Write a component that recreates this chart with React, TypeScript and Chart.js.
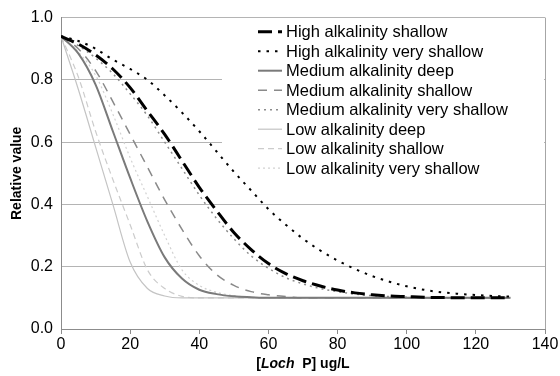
import React, { useEffect, useRef } from "react";
import { Chart, registerables } from "chart.js";

Chart.register(...registerables);

// x positions ([Loch P] ug/L) where values were read
const xValues = [0, 5, 10, 15, 20, 25, 30, 35, 40, 45, 50, 55, 60, 65, 70, 75, 80, 85, 90, 95, 100, 105, 110, 115, 120, 125, 130];

const highShallow = [0.94, 0.915, 0.88, 0.835, 0.775, 0.7, 0.625, 0.54, 0.455, 0.38, 0.31, 0.255, 0.21, 0.178, 0.155, 0.138, 0.125, 0.116, 0.11, 0.106, 0.104, 0.102, 0.101, 0.1, 0.1, 0.1, 0.1];
const highVeryShallow = [0.94, 0.925, 0.9, 0.865, 0.835, 0.8, 0.75, 0.695, 0.635, 0.57, 0.505, 0.445, 0.385, 0.335, 0.29, 0.252, 0.22, 0.193, 0.17, 0.152, 0.137, 0.126, 0.118, 0.113, 0.109, 0.106, 0.104];
const mediumDeep = [0.94, 0.885, 0.785, 0.635, 0.485, 0.345, 0.23, 0.162, 0.126, 0.112, 0.105, 0.102, 0.1, 0.1, 0.1, 0.1, 0.1, 0.1, 0.1, 0.1, 0.1, 0.1, 0.1, 0.1, 0.1, 0.1, 0.1];
const mediumShallow = [0.94, 0.9, 0.83, 0.73, 0.625, 0.52, 0.415, 0.32, 0.235, 0.175, 0.14, 0.12, 0.11, 0.104, 0.1, 0.1, 0.1, 0.1, 0.1, 0.1, 0.1, 0.1, 0.1, 0.1, 0.1, 0.1, 0.1];
const mediumVeryShallow = [0.94, 0.91, 0.87, 0.82, 0.755, 0.685, 0.6, 0.515, 0.43, 0.355, 0.29, 0.235, 0.195, 0.165, 0.145, 0.13, 0.12, 0.112, 0.107, 0.104, 0.102, 0.101, 0.1, 0.1, 0.1, 0.1, 0.1];
const lowDeep = [0.94, 0.77, 0.585, 0.4, 0.215, 0.13, 0.106, 0.1, 0.1, 0.1, 0.1, 0.1, 0.1, 0.1, 0.1, 0.1, 0.1, 0.1, 0.1, 0.1, 0.1, 0.1, 0.1, 0.1, 0.1, 0.1, 0.1];
const lowShallow = [0.94, 0.81, 0.635, 0.48, 0.335, 0.19, 0.13, 0.105, 0.1, 0.1, 0.1, 0.1, 0.1, 0.1, 0.1, 0.1, 0.1, 0.1, 0.1, 0.1, 0.1, 0.1, 0.1, 0.1, 0.1, 0.1, 0.1];
const lowVeryShallow = [0.94, 0.89, 0.815, 0.69, 0.55, 0.425, 0.3, 0.19, 0.14, 0.118, 0.107, 0.102, 0.1, 0.1, 0.1, 0.1, 0.1, 0.1, 0.1, 0.1, 0.1, 0.1, 0.1, 0.1, 0.1, 0.1, 0.1];

const seriesNames = [
  "High alkalinity shallow",
  "High alkalinity very shallow",
  "Medium alkalinity deep",
  "Medium alkalinity shallow",
  "Medium alkalinity very shallow",
  "Low alkalinity deep",
  "Low alkalinity shallow",
  "Low alkalinity very shallow",
];
const seriesValues = [highShallow, highVeryShallow, mediumDeep, mediumShallow, mediumVeryShallow, lowDeep, lowShallow, lowVeryShallow];

const yAxisTitle = "Relative value";
const xAxisTitleParts = ["[", "Loch", "  P] ug/L"];

const styles = [
  { color: "#000000", width: 3, dash: [14, 6] },
  { color: "#000000", width: 2, dash: [2.5, 6] },
  { color: "#7a7a7a", width: 2, dash: [] },
  { color: "#8a8a8a", width: 1.5, dash: [9, 7] },
  { color: "#8c8c8c", width: 1.5, dash: [2, 4] },
  { color: "#c4c4c4", width: 1.2, dash: [] },
  { color: "#cccccc", width: 1.2, dash: [6, 4] },
  { color: "#d2d2d2", width: 1.2, dash: [2, 3] },
];

const FONT = "'Liberation Sans', Arial, sans-serif";

const overlayPlugin = {
  id: "overlay",
  beforeDatasetsDraw(chart: any) {
    const { ctx, chartArea } = chart;
    ctx.save();
    ctx.fillStyle = "#ffffff";
    ctx.fillRect(222, chartArea.top + 1, chartArea.right - 222 - 1, 185 - chartArea.top);
    ctx.restore();
  },
  afterDatasetsDraw(chart: any) {
    const { ctx, chartArea } = chart;
    ctx.save();
    // right border
    ctx.strokeStyle = "#a6a6a6";
    ctx.lineWidth = 1;
    ctx.beginPath();
    ctx.moveTo(Math.round(chartArea.right) + 0.5, chartArea.top);
    ctx.lineTo(Math.round(chartArea.right) + 0.5, chartArea.bottom);
    ctx.stroke();
    // legend
    const x0 = 258;
    const x1 = 282;
    const yStart = 31.7;
    const step = 19.5;
    ctx.font = `16.5px ${FONT}`;
    ctx.textBaseline = "middle";
    ctx.textAlign = "left";
    seriesNames.forEach((name, i) => {
      const y = yStart + i * step;
      const s = styles[i];
      ctx.strokeStyle = s.color;
      ctx.lineWidth = s.width;
      ctx.setLineDash(s.dash);
      ctx.lineCap = "butt";
      ctx.beginPath();
      ctx.moveTo(x0, y);
      ctx.lineTo(x1, y);
      ctx.stroke();
      ctx.setLineDash([]);
      ctx.fillStyle = "#000000";
      ctx.fillText(name, 286, y + 1);
    });
    ctx.restore();
  },
  afterDraw(chart: any) {
    const { ctx, chartArea } = chart;
    ctx.save();
    ctx.fillStyle = "#000000";
    // y title
    ctx.font = `bold 14px ${FONT}`;
    ctx.textAlign = "center";
    ctx.textBaseline = "middle";
    ctx.translate(17, (chartArea.top + chartArea.bottom) / 2);
    ctx.rotate(-Math.PI / 2);
    ctx.fillText(yAxisTitle, 0, 0);
    ctx.setTransform(1, 0, 0, 1, 0, 0);
    // x title with italic part
    const fonts = [`bold 14px ${FONT}`, `italic bold 14px ${FONT}`, `bold 14px ${FONT}`];
    const widths = xAxisTitleParts.map((p, i) => {
      ctx.font = fonts[i];
      return ctx.measureText(p).width;
    });
    const total = widths.reduce((a, b) => a + b, 0);
    let x = (chartArea.left + chartArea.right) / 2 - total / 2;
    ctx.textAlign = "left";
    ctx.textBaseline = "middle";
    xAxisTitleParts.forEach((p, i) => {
      ctx.font = fonts[i];
      ctx.fillText(p, x, 364);
      x += widths[i];
    });
    ctx.restore();
  },
};

export default function App() {
  const ref = useRef<HTMLCanvasElement | null>(null);
  useEffect(() => {
    if (!ref.current) return;
    const chart = new Chart(ref.current, {
      type: "line",
      data: {
        datasets: seriesValues.map((vals, i) => ({
          label: seriesNames[i],
          data: xValues.map((x, j) => ({ x, y: vals[j] })),
          borderColor: styles[i].color,
          borderWidth: styles[i].width,
          borderDash: styles[i].dash,
          borderCapStyle: "butt",
          pointRadius: 0,
          fill: false,
          cubicInterpolationMode: "monotone",
        })),
      },
      options: {
        animation: false,
        responsive: false,
        maintainAspectRatio: false,
        layout: { padding: { top: 14, right: 15, left: 0, bottom: 0 } },
        plugins: { legend: { display: false }, tooltip: { enabled: false } },
        scales: {
          x: {
            type: "linear",
            min: 0,
            max: 140,
            afterFit: (s: any) => { s.height = 47; },
            ticks: { stepSize: 20, color: "#000", font: { family: FONT, size: 16 }, padding: 1, maxRotation: 0 },
            grid: { drawOnChartArea: false, drawTicks: true, tickLength: 5, color: "#8c8c8c" },
            border: { color: "#8c8c8c" },
          },
          y: {
            type: "linear",
            min: 0,
            max: 1,
            afterFit: (s: any) => { s.width = 61; },
            ticks: { stepSize: 0.2, color: "#000", font: { family: FONT, size: 16 }, padding: 8, callback: (v: any) => Number(v).toFixed(1) },
            grid: { color: "#b4b4b4", drawTicks: false },
            border: { color: "#8c8c8c" },
          },
        },
      },
      plugins: [overlayPlugin],
    } as any);
    return () => chart.destroy();
  }, []);
  return (
    <div style={{ position: "fixed", left: 0, top: 0, width: 560, height: 376, background: "#fff" }}>
      <canvas ref={ref} width={560} height={376} style={{ width: 560, height: 376, display: "block" }} />
    </div>
  );
}
